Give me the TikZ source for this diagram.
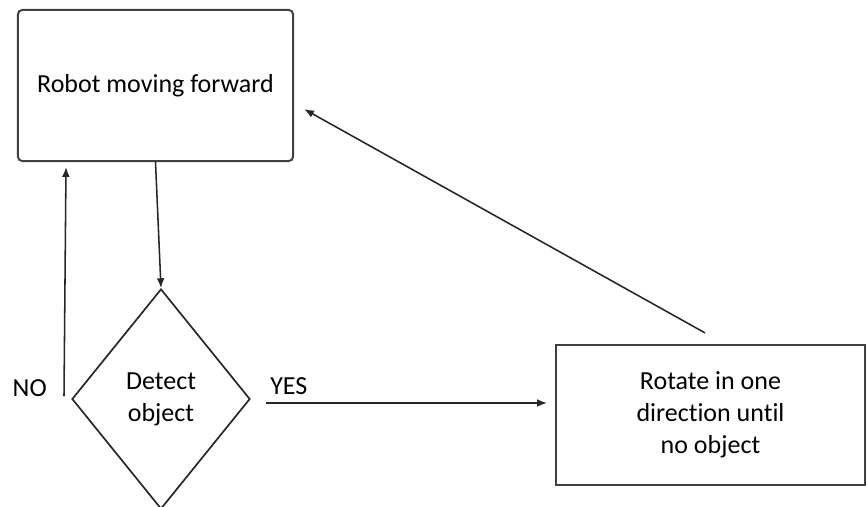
\documentclass[tikz,border=0pt]{standalone}
\usepackage{fontspec}
\setmainfont{Carlito}[Ligatures=NoCommon]
\usetikzlibrary{shapes.geometric, arrows.meta, positioning}

\begin{document}
\begin{tikzpicture}[
        x=0.025cm, y=-0.025cm,
        box/.style={rectangle, draw=black!75, line width=1.4pt, align=center, font=\fontsize{18.5}{22.7}\selectfont},
        decision/.style={diamond, draw=black!85, line width=1.2pt, align=center, inner sep=0pt, minimum width=4.45cm, minimum height=5.5cm, font=\fontsize{18.5}{22.7}\selectfont},
        arrow/.style={-{Latex[length=7pt, width=5.5pt]}, line width=1.1pt, black!85},
        lbl/.style={font=\fontsize{18.5}{22.7}\selectfont, inner sep=0pt}
    ]
        \useasboundingbox (0,0) rectangle (867,506);

        \node[box, rounded corners=3pt, minimum width=6.875cm, minimum height=3.775cm] (robot) at (155.5,85.5) {Robot moving forward};
        \node[decision] (detect) at (161,399) {Detect\\object};
        \node[box, minimum width=7.725cm, minimum height=3.5cm] (rotate) at (710.5,415) {Rotate in one\\direction until\\no object};

        \coordinate (no start) at (64,396);
        \coordinate (no end) at (66,167);
        \coordinate (yes start) at (266,403);

        \draw[arrow] (robot.south) -- (detect.north);
        \draw[arrow] (no start) -- (no end);
        \node[lbl, anchor=east] (no) at (47,388) {NO};
        \draw[arrow, shorten >=0.2cm] (yes start) -- (rotate.west |- yes start);
        \node[lbl, anchor=west] (yes) at (270,386) {YES};
        \draw[arrow, shorten <=0.57cm, shorten >=0.29cm] ([xshift=0.36cm]rotate.north) -- ([yshift=-0.45cm]robot.east);
    \end{tikzpicture}
\end{document}
